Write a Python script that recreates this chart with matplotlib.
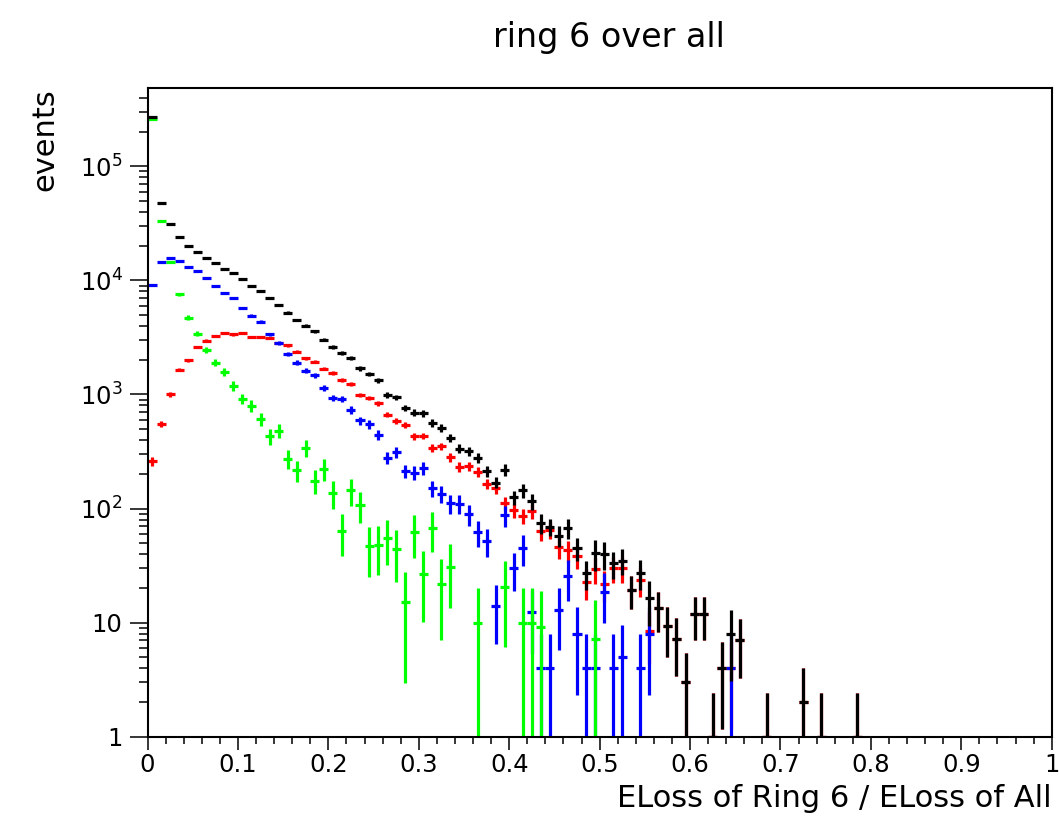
import numpy as np
import matplotlib
matplotlib.use("Agg")
import matplotlib.pyplot as plt
from matplotlib.ticker import FixedLocator, LogLocator, MultipleLocator, FuncFormatter, NullFormatter

# 100 bins of width 0.01 on [0, 1]; values listed for the first 80 bins, the rest are empty
nbins = 100
bin_width = 0.01

# all rings summed (black)
all_counts = [2.7e5, 4.8e4, 3.1e4, 2.39e4, 2.0e4, 1.79e4, 1.57e4, 1.41e4, 1.26e4, 1.15e4,
              1.02e4, 8.9e3, 8.07e3, 6.96e3, 6.09e3, 5.22e3, 4.48e3, 4.0e3, 3.59e3, 3.03e3,
              2.6e3, 2.3e3, 2.1e3, 1.69e3, 1.51e3, 1.33e3, 988, 944, 762, 693,
              684, 560, 510, 417, 334, 319, 280, 213, 169, 219,
              126, 144, 116, 75, 69, 58, 68, 45, 27, 40.5,
              40, 33, 35, 19.5, 27.4, 16.4, 13.4, 9.3, 7.2, 3,
              12, 12, 1, 4, 8, 7, 0, 0, 1, 0,
              0, 0, 2, 0, 1, 0, 0, 0, 1, 0]

red_counts = [259, 556, 1000, 1650, 2000, 2610, 2970, 3240, 3440, 3360,
              3470, 3200, 3200, 3140, 2820, 2690, 2360, 2070, 1940, 1680,
              1540, 1350, 1240, 995, 931, 836, 666, 587, 537, 428,
              434, 339, 352, 282, 232, 234, 209, 165, 152, 112,
              96.7, 86, 95, 63.5, 65, 46, 43, 38, 22.6, 29.5,
              21.8, 30, 30, 19.5, 23.5, 8.4, 13.4, 9.3, 7.2, 3,
              12, 12, 1, 4, 4, 7, 0, 0, 1, 0,
              0, 0, 2, 0, 1, 0, 0, 0, 1, 0]

blue_counts = [9100, 14600, 15600, 14700, 13200, 12000, 10400, 8960, 7700, 7000,
               5730, 4910, 4350, 3370, 2820, 2260, 1900, 1610, 1480, 1150,
               930, 914, 733, 591, 549, 443, 280, 310, 213, 206,
               226, 150, 135, 111, 110, 88.7, 62, 52, 14, 87.5,
               30, 45, 12.4, 4, 4, 13, 25.5, 8, 4, 4,
               18.6, 4, 5, 0, 4, 8, 0, 0, 0, 0,
               0, 0, 0, 0, 4, 0, 0, 0, 0, 0,
               0, 0, 0, 0, 0, 0, 0, 0, 0, 0]

green_counts = [2.6e5, 3.3e4, 1.45e4, 7550, 4720, 3420, 2460, 1900, 1570, 1190,
                914, 796, 611, 428, 482, 273, 216, 341, 176, 223,
                136, 63.8, 144, 107, 46.9, 47.8, 55.5, 43.8, 15.3, 62,
                26.5, 68, 21.7, 30.9, 0, 0, 10, 0, 0, 20.4,
                0, 10, 10, 9.2, 0, 0, 0, 0, 0, 7.2,
                0, 0, 0, 0, 0, 0, 0, 0, 0, 0,
                0, 0, 0, 0, 0, 0, 0, 0, 0, 0,
                0, 0, 0, 0, 0, 0, 0, 0, 0, 0]

# typical event weight per sample (error = sqrt(sum w^2) ~ sqrt(w * content))
w_red, w_blue, w_green = 2.0, 4.0, 10.0


def pad(v):
    a = np.zeros(nbins)
    a[:len(v)] = v
    return a


red = pad(red_counts)
blue = pad(blue_counts)
green = pad(green_counts)
black = pad(all_counts)
err_red = np.sqrt(w_red * red)
err_blue = np.sqrt(w_blue * blue)
err_green = np.sqrt(w_green * green)
err_black = np.sqrt(err_red**2 + err_blue**2 + err_green**2)

centers = (np.arange(nbins) + 0.5) * bin_width

fig = plt.figure(figsize=(10.59, 8.18), dpi=100)
ax = fig.add_axes([0.1393, 0.0994, 0.8538, 0.7936])

def draw(vals, errs, color):
    m = vals > 0
    v = vals[m]
    e = errs[m]
    lo = np.minimum(e, v - 1e-3)
    ax.errorbar(centers[m], v, xerr=bin_width / 2, yerr=[lo, e], fmt='none',
                ecolor=color, elinewidth=2.3, capsize=0)

draw(red, err_red, '#ff0000')
draw(blue, err_blue, '#0000ff')
draw(green, err_green, '#00ff00')
draw(black, err_black, '#000000')

ax.set_yscale('log')
ax.set_xlim(0, 1)
ax.set_ylim(1, 4.9e5)

ax.xaxis.set_major_locator(MultipleLocator(0.1))
ax.xaxis.set_minor_locator(MultipleLocator(0.02))
ax.xaxis.set_major_formatter(FuncFormatter(lambda v, p: '%g' % round(v, 2)))
ax.yaxis.set_major_locator(FixedLocator([1, 10, 1e2, 1e3, 1e4, 1e5]))
ax.yaxis.set_minor_locator(LogLocator(base=10, subs=np.arange(2, 10), numticks=20))
ax.yaxis.set_minor_formatter(NullFormatter())

def ylab(v, p):
    n = int(round(np.log10(v)))
    if n == 0:
        return '1'
    if n == 1:
        return '10'
    return r'$10^{%d}$' % n

ax.yaxis.set_major_formatter(FuncFormatter(ylab))

ax.tick_params(axis='both', which='both', direction='out', width=1.1,
               top=False, right=False, labelsize=17.5, colors='black')
ax.tick_params(axis='y', which='major', length=13, pad=5)
ax.tick_params(axis='y', which='minor', length=6.5)
ax.tick_params(axis='x', which='major', length=9.5, pad=2)
ax.tick_params(axis='x', which='minor', length=5)
for s in ax.spines.values():
    s.set_linewidth(1.5)

fig.text(609 / 1059, 1 - 38 / 818, 'ring 6 over all', ha='center', va='center', fontsize=24)
fig.text(45 / 1059, 1 - 88 / 818, 'events', rotation=90, ha='center', va='top', fontsize=22)
fig.text(1052 / 1059, 1 - 807 / 818, 'ELoss of Ring 6 / ELoss of All', ha='right',
         va='baseline', fontsize=22)

fig.savefig('out.png', dpi=100)
